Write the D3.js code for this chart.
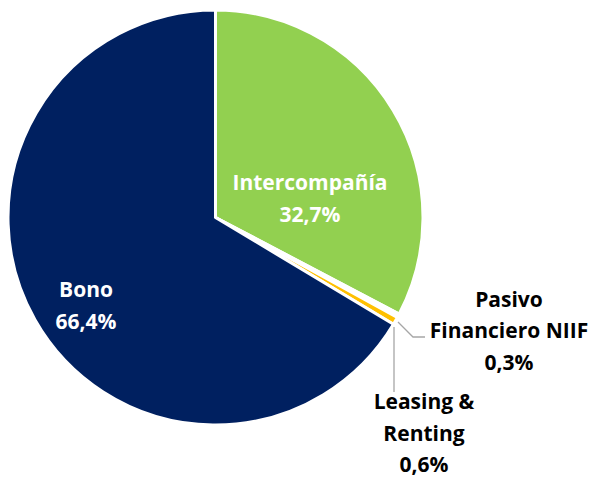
<!DOCTYPE html>
<html>
<head>
<meta charset="utf-8">
<script src="https://cdn.jsdelivr.net/npm/d3@7"></script>
<style>
  body { margin: 0; background: #fff; }
  text { font-family: "Open Sans", Lato, sans-serif; font-weight: bold; }
</style>
</head>
<body>
<div id="app"></div>
<script>
const categories = ["Intercompañía", "Pasivo Financiero NIIF", "Leasing & Renting", "Bono"];
const values = [32.7, 0.3, 0.6, 66.4];
const valueLabels = ["32,7%", "0,3%", "0,6%", "66,4%"];
const colors = ["#92d050", "#ffffff", "#ffc000", "#002060"];

const w = 596, h = 478;
const cx = 215.5, cy = 217.5, r = 207.5;

const svg = d3.select("#app").append("svg")
  .attr("width", w)
  .attr("height", h);

const pie = d3.pie().sort(null).value(d => d.v);
const arcs = pie(categories.map((c, i) => ({ c: c, v: values[i], i: i })));
const arc = d3.arc().innerRadius(0).outerRadius(r);

const g = svg.append("g").attr("transform", "translate(" + cx + "," + cy + ")");

g.selectAll("path")
  .data(arcs)
  .enter()
  .append("path")
  .attr("d", arc)
  .attr("fill", d => colors[d.data.i])
  .attr("stroke", "#fff")
  .attr("stroke-width", 3)
  .attr("stroke-linejoin", "round");

// inside labels
function insideLabel(idx, pos) {
  const t = svg.append("text")
    .attr("text-anchor", "middle")
    .attr("fill", "#fff")
    .attr("font-size", "21px");
  t.append("tspan").attr("x", pos[0]).attr("y", pos[1]).text(categories[idx]);
  t.append("tspan").attr("x", pos[0]).attr("y", pos[1] + 32).text(valueLabels[idx]);
}
insideLabel(0, [310, 190]);
insideLabel(3, [86, 297]);

// leader lines for small slices
svg.append("polyline")
  .attr("points", [[398, 322], [413, 337], [425, 337]].join(" "))
  .attr("fill", "none")
  .attr("stroke", "#a6a6a6")
  .attr("stroke-width", 1.3);

svg.append("polyline")
  .attr("points", [[394, 327], [394, 392]].join(" "))
  .attr("fill", "none")
  .attr("stroke", "#a6a6a6")
  .attr("stroke-width", 1.3);

function outsideLabel(lines, x, y) {
  const t = svg.append("text")
    .attr("text-anchor", "middle")
    .attr("fill", "#000")
    .attr("font-size", "21px");
  lines.forEach((l, k) => {
    t.append("tspan").attr("x", x).attr("y", y + k * 31.5).text(l);
  });
}
outsideLabel(["Pasivo", "Financiero NIIF", valueLabels[1]], 509, 306.5);
outsideLabel(["Leasing &", "Renting", valueLabels[2]], 424, 409);
</script>
</body>
</html>
